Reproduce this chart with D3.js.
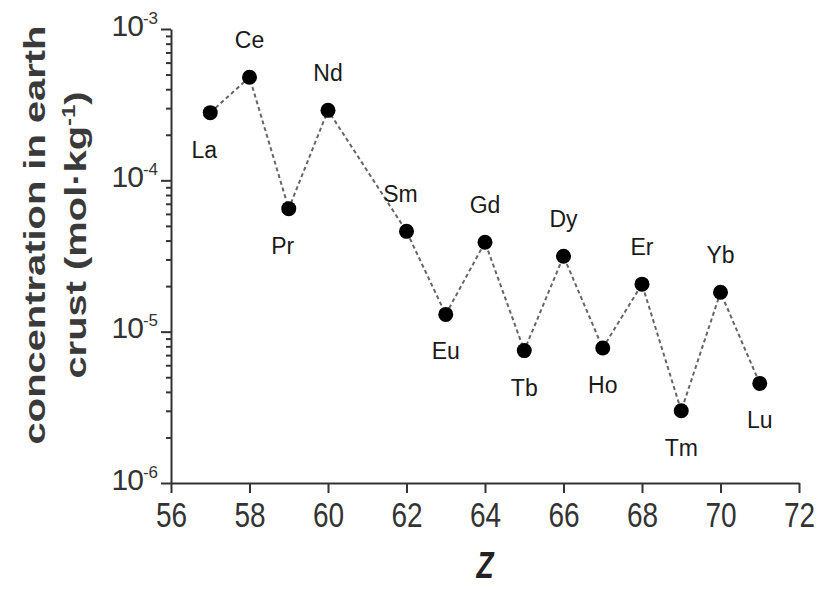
<!DOCTYPE html>
<html>
<head>
<meta charset="utf-8">
<script src="https://cdn.jsdelivr.net/npm/d3@7"></script>
<style>
  body { margin: 0; background: #fff; }
  text { font-family: "Liberation Sans", Arial, sans-serif; }
</style>
</head>
<body>
<div id="chart"></div>
<script>
// Rare earth elements, atomic number and concentration (mol/kg)
const elements = ["La", "Ce", "Pr", "Nd", "Sm", "Eu", "Gd", "Tb", "Dy", "Ho", "Er", "Tm", "Yb", "Lu"];
const atomicNumbers = [57, 58, 59, 60, 62, 63, 64, 65, 66, 67, 68, 69, 70, 71];
const concentrations = [2.8e-4, 4.8e-4, 6.5e-5, 2.9e-4, 4.6e-5, 1.3e-5, 3.9e-5, 7.5e-6, 3.15e-5, 7.8e-6, 2.06e-5, 3.0e-6, 1.82e-5, 4.55e-6];
const labelPlacement = ["below-left", "above", "below-left", "above", "above-left", "below", "above", "below", "above", "below", "above", "below", "above", "below"];
const xTicks = [56, 58, 60, 62, 64, 66, 68, 70, 72];
const yDecades = [-6, -5, -4, -3];

const width = 820, height = 590;
const ink = "#333";

const svg = d3.select("#chart")
    .append("svg")
    .attr("width", width)
    .attr("height", height);

const x = d3.scaleLinear().domain([56, 72]).range([171, 799]);
const y = d3.scaleLog().domain([1e-6, 1e-3]).range([483, 29]);

// y ticks: majors at decades, minors at 2..9
let yTickVals = [];
yDecades.forEach(p => {
    yTickVals.push(Math.pow(10, p));
    if (p < -3) {
        for (let m = 2; m <= 9; m++) yTickVals.push(m * Math.pow(10, p));
    }
});
const isMajor = v => Math.abs(Math.log10(v) - Math.round(Math.log10(v))) < 1e-9;

const yAxis = svg.append("g")
    .attr("transform", `translate(${x(56)},0)`)
    .call(d3.axisLeft(y).tickValues(yTickVals).tickSize(10).tickSizeOuter(0).tickFormat(""));

yAxis.selectAll(".tick line")
    .attr("x2", d => isMajor(d) ? -10 : -5);

// superscript labels 10^p
yAxis.selectAll(".tick")
    .filter(d => isMajor(d))
    .append("text")
    .attr("x", -13)
    .attr("y", 6)
    .attr("text-anchor", "end")
    .attr("fill", ink)
    .style("font-size", "30px")
    .each(function(d) {
        const t = d3.select(this);
        t.append("tspan").style("letter-spacing", "-1px").text("10");
        t.append("tspan")
            .attr("dy", -12)
            .style("font-size", "17px")
            .text("-" + Math.abs(Math.round(Math.log10(d))));
    });

const xAxis = svg.append("g")
    .attr("transform", `translate(0,${y(1e-6)})`)
    .call(d3.axisBottom(x).tickValues(xTicks).tickSize(10).tickSizeOuter(0).tickPadding(10));

xAxis.selectAll(".tick text")
    .attr("fill", ink)
    .attr("transform", "scale(1,1.25)")
    .attr("y", 15)
    .style("font-size", "28px");

svg.selectAll(".domain, .tick line")
    .attr("stroke", ink)
    .attr("stroke-width", 2);

// data
const points = elements.map((el, i) => ({
    name: el,
    z: atomicNumbers[i],
    c: concentrations[i],
    place: labelPlacement[i]
}));

const line = d3.line().x(d => x(d.z)).y(d => y(d.c));

svg.append("path")
    .datum(points)
    .attr("fill", "none")
    .attr("stroke", "#666")
    .attr("stroke-width", 2)
    .attr("stroke-dasharray", "4,3")
    .attr("d", line);

svg.selectAll(".dot")
    .data(points)
    .join("circle")
    .attr("class", "dot")
    .attr("cx", d => x(d.z))
    .attr("cy", d => y(d.c))
    .attr("r", 7.5)
    .attr("fill", "#000");

svg.selectAll(".elabel")
    .data(points)
    .join("text")
    .attr("class", "elabel")
    .attr("x", d => x(d.z) + (d.place.endsWith("left") ? -6 : 0))
    .attr("y", d => y(d.c) + (d.place.startsWith("above") ? -37 : 37))
    .attr("dy", "0.35em")
    .attr("text-anchor", "middle")
    .attr("fill", "#1a1a1a")
    .style("font-size", "23px")
    .text(d => d.name);

// axis titles
const yTitle = svg.append("text")
    .attr("transform", "translate(0,235) rotate(-90) scale(1.33,1)")
    .attr("text-anchor", "middle")
    .attr("fill", "#3a3a3a")
    .style("font-size", "30px")
    .style("font-weight", "bold");
yTitle.append("tspan").attr("x", 0).attr("y", 45).text("concentration in earth");
yTitle.append("tspan").attr("x", 0).attr("y", 86).text("crust (mol·kg");
yTitle.append("tspan").attr("dy", -11).style("font-size", "18px").text("-1");
yTitle.append("tspan").attr("dy", 11).text(")");

svg.append("text")
    .attr("transform", `translate(${(x(56) + x(72)) / 2},578) scale(1,1.3)`)
    .attr("text-anchor", "middle")
    .attr("fill", "#222")
    .style("font-size", "28px")
    .style("font-weight", "bold")
    .style("font-style", "italic")
    .text("Z");
</script>
</body>
</html>
